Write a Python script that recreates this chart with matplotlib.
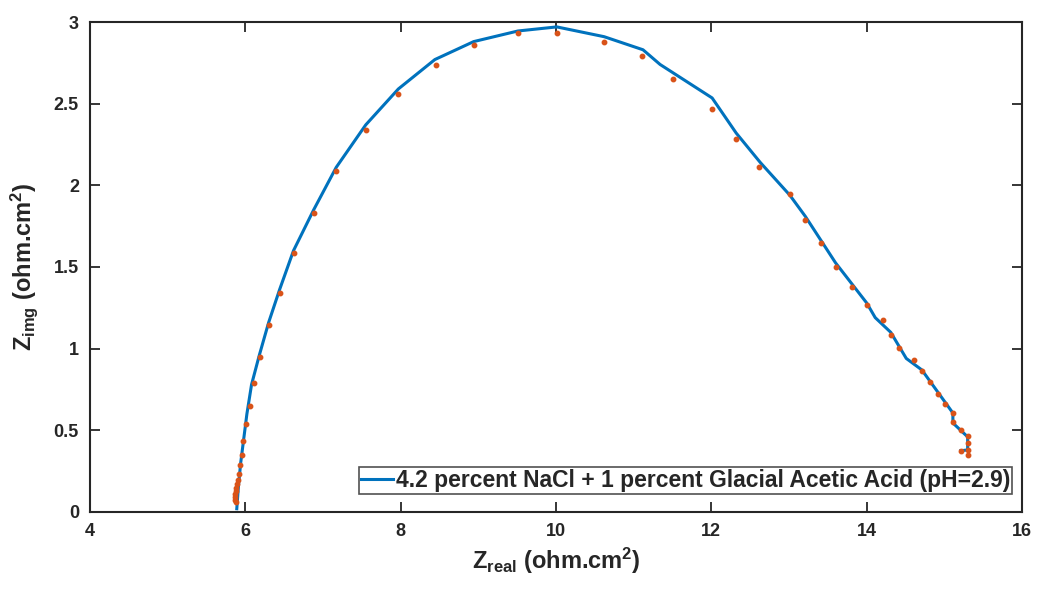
import matplotlib
matplotlib.use("Agg")
import matplotlib.pyplot as plt

# Measured data points (orange dots)
z_real_pts = [5.880, 5.867, 5.867, 5.867, 5.880, 5.880, 5.893, 5.905, 5.918, 5.931,
              5.957, 5.970, 6.008, 6.060, 6.111, 6.189, 6.305, 6.446, 6.627, 6.884,
              7.167, 7.553, 7.966, 8.455, 8.944, 9.511, 10.013, 10.618, 11.107, 11.506,
              12.008, 12.317, 12.613, 13.012, 13.206, 13.412, 13.605, 13.811, 14.004, 14.210,
              14.313, 14.416, 14.609, 14.712, 14.815, 14.918, 15.008, 15.111, 15.111, 15.214,
              15.304, 15.304, 15.304, 15.214, 15.304]
z_img_pts = [0.061, 0.073, 0.092, 0.110, 0.129, 0.147, 0.171, 0.196, 0.233, 0.288,
             0.349, 0.435, 0.539, 0.649, 0.790, 0.949, 1.145, 1.341, 1.586, 1.831,
             2.088, 2.339, 2.560, 2.737, 2.860, 2.933, 2.933, 2.878, 2.792, 2.652,
             2.468, 2.284, 2.113, 1.947, 1.788, 1.647, 1.500, 1.378, 1.268, 1.176,
             1.084, 1.004, 0.931, 0.863, 0.796, 0.723, 0.661, 0.606, 0.551, 0.502,
             0.465, 0.423, 0.380, 0.374, 0.349]

# Fitted curve (blue line)
z_real_fit = [5.89, 5.91, 5.94, 5.98, 6.02, 6.08, 6.18, 6.30, 6.44, 6.62, 6.88, 7.17,
              7.55, 7.97, 8.44, 8.94, 9.51, 10.01, 10.62, 11.12, 11.34, 12.01, 12.32,
              12.63, 13.01, 13.21, 13.60, 14.00, 14.11, 14.31, 14.51, 14.71, 15.11,
              15.11, 15.30, 15.30, 15.21]
z_img_fit = [0.02, 0.15, 0.30, 0.45, 0.60, 0.78, 0.96, 1.16, 1.36, 1.60, 1.85, 2.11,
             2.37, 2.59, 2.77, 2.88, 2.945, 2.97, 2.91, 2.83, 2.74, 2.535, 2.32,
             2.14, 1.94, 1.81, 1.525, 1.28, 1.19, 1.10, 0.94, 0.87, 0.606,
             0.545, 0.46, 0.38, 0.375]

legend_label = "4.2 percent NaCl + 1 percent Glacial Acetic Acid (pH=2.9)"
x_ticks = [4, 6, 8, 10, 12, 14, 16]
y_ticks = [0, 0.5, 1, 1.5, 2, 2.5, 3]
y_tick_labels = ["0", "0.5", "1", "1.5", "2", "2.5", "3"]

plt.rcParams['font.family'] = ['Liberation Sans', 'DejaVu Sans']
plt.rcParams['font.weight'] = 'bold'
plt.rcParams['mathtext.fontset'] = 'custom'
plt.rcParams['mathtext.rm'] = 'Liberation Sans:bold'
plt.rcParams['mathtext.bf'] = 'Liberation Sans:bold'
plt.rcParams['mathtext.it'] = 'Liberation Sans:bold'

fig = plt.figure(figsize=(10.38, 5.93), dpi=100)
ax = fig.add_axes([0.0867, 0.1366, 0.8979, 0.8263])

ax.plot(z_real_fit, z_img_fit, color='#0072BD', lw=2.2, label=legend_label, zorder=2)
ax.plot(z_real_pts, z_img_pts, linestyle='none', marker='o', ms=3.2,
        color='#D95319', mec='#D95319', zorder=3)

ax.set_xlim(4, 16)
ax.set_ylim(0, 3)
ax.set_xticks(x_ticks)
ax.set_yticks(y_ticks)
ax.set_yticklabels(y_tick_labels)

ax.tick_params(direction='in', top=True, right=True, length=7, width=1.3,
               color='#262626', labelsize=13, labelcolor='#262626', pad=8)
for lab in ax.get_xticklabels() + ax.get_yticklabels():
    lab.set_fontweight('bold')
for s in ax.spines.values():
    s.set_linewidth(1.5)
    s.set_color('#262626')

ax.set_xlabel(r'$\mathrm{Z}_{\mathrm{real}}$ (ohm.cm$^{\mathrm{2}}$)', fontsize=17,
              fontweight='bold', color='#262626', labelpad=4)
ax.set_ylabel(r'$\mathrm{Z}_{\mathrm{img}}$ (ohm.cm$^{\mathrm{2}}$)', fontsize=17,
              fontweight='bold', color='#262626', labelpad=10)

leg = ax.legend(loc='lower right', bbox_to_anchor=(0.989, 0.037), fontsize=16.5,
                frameon=True, fancybox=False, handlelength=1.4, handletextpad=0.12,
                borderpad=0.08, borderaxespad=0)
leg.get_frame().set_edgecolor('#262626')
leg.get_frame().set_linewidth(1.2)
for t in leg.get_texts():
    t.set_fontweight('bold')
    t.set_color('#262626')

fig.savefig('out.png', dpi=100)
